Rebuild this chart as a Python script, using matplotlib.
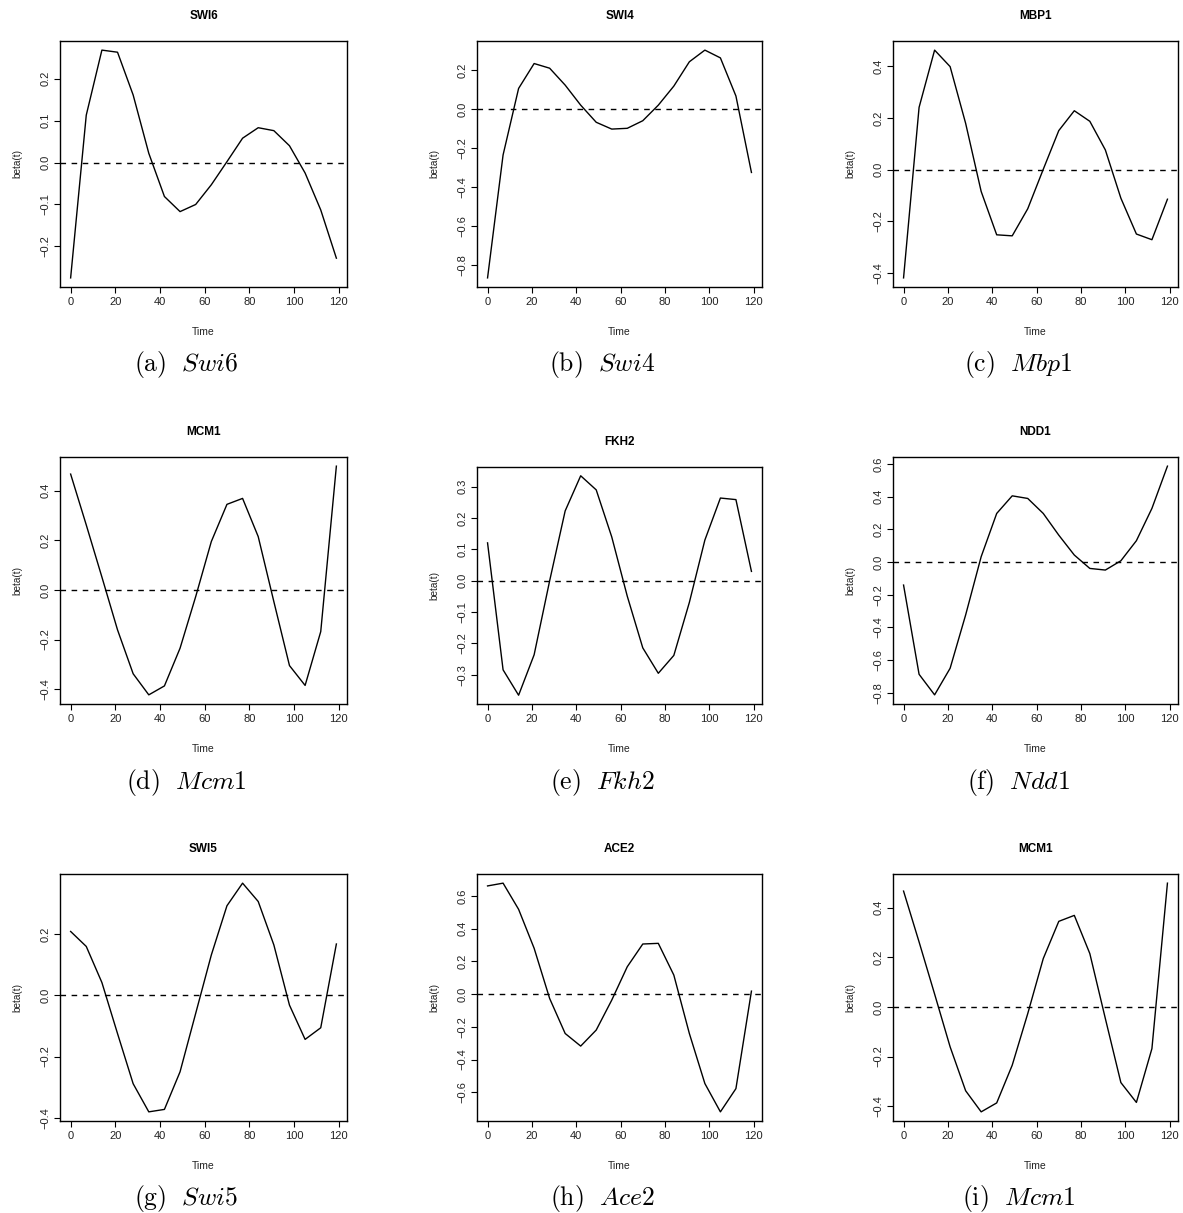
import numpy as np
import matplotlib
matplotlib.use("Agg")
import matplotlib.pyplot as plt

plt.rcParams['font.family'] = ['Liberation Sans', 'DejaVu Sans']
plt.rcParams['mathtext.fontset'] = 'cm'
plt.rcParams['axes.unicode_minus'] = True

time = [0, 7, 14, 21, 28, 35, 42, 49, 56, 63, 70, 77, 84, 91, 98, 105, 112, 119]

swi6 = [-0.275, 0.113, 0.268, 0.263, 0.161, 0.022, -0.081, -0.117, -0.100, -0.053,
        0.002, 0.058, 0.083, 0.076, 0.040, -0.025, -0.113, -0.228]
swi4 = [-0.868, -0.236, 0.106, 0.234, 0.210, 0.123, 0.020, -0.068, -0.103, -0.099,
        -0.060, 0.020, 0.118, 0.243, 0.303, 0.263, 0.067, -0.326]
mbp1 = [-0.420, 0.241, 0.463, 0.399, 0.179, -0.085, -0.253, -0.257, -0.152, 0.001,
        0.151, 0.228, 0.187, 0.076, -0.111, -0.250, -0.272, -0.115]
mcm1 = [0.467, 0.262, 0.052, -0.161, -0.338, -0.423, -0.387, -0.235, -0.027, 0.195,
        0.345, 0.369, 0.215, -0.047, -0.305, -0.385, -0.168, 0.499]
fkh2 = [0.121, -0.284, -0.365, -0.236, 0.000, 0.223, 0.335, 0.290, 0.140, -0.049,
        -0.214, -0.295, -0.238, -0.069, 0.130, 0.264, 0.259, 0.030]
ndd1 = [-0.141, -0.688, -0.814, -0.651, -0.324, 0.033, 0.298, 0.406, 0.390, 0.298,
        0.165, 0.043, -0.039, -0.049, 0.008, 0.131, 0.329, 0.588]
swi5 = [0.209, 0.160, 0.042, -0.125, -0.289, -0.381, -0.373, -0.250, -0.059, 0.132,
        0.293, 0.367, 0.307, 0.165, -0.032, -0.144, -0.106, 0.168]
ace2 = [0.661, 0.678, 0.518, 0.280, -0.027, -0.241, -0.318, -0.220, -0.037, 0.167,
        0.306, 0.310, 0.116, -0.241, -0.547, -0.720, -0.578, 0.018]

titles = ["SWI6", "SWI4", "MBP1", "MCM1", "FKH2", "NDD1", "SWI5", "ACE2", "MCM1"]
captions = [r"$\mathrm{(a)}\ \ Swi6$", r"$\mathrm{(b)}\ \ Swi4$", r"$\mathrm{(c)}\ \ Mbp1$",
            r"$\mathrm{(d)}\ \ Mcm1$", r"$\mathrm{(e)}\ \ Fkh2$", r"$\mathrm{(f)}\ \ Ndd1$",
            r"$\mathrm{(g)}\ \ Swi5$", r"$\mathrm{(h)}\ \ Ace2$", r"$\mathrm{(i)}\ \ Mcm1$"]
series = [swi6, swi4, mbp1, mcm1, fkh2, ndd1, swi5, ace2, mcm1]
yticks = [
    [-0.2, -0.1, 0.0, 0.1, 0.2],
    [-0.8, -0.6, -0.4, -0.2, 0.0, 0.2],
    [-0.4, -0.2, 0.0, 0.2, 0.4],
    [-0.4, -0.2, 0.0, 0.2, 0.4],
    [-0.3, -0.2, -0.1, 0.0, 0.1, 0.2, 0.3],
    [-0.8, -0.6, -0.4, -0.2, 0.0, 0.2, 0.4, 0.6],
    [-0.4, -0.2, 0.0, 0.2],
    [-0.6, -0.4, -0.2, 0.0, 0.2, 0.4, 0.6],
    [-0.4, -0.2, 0.0, 0.2, 0.4],
]
xticks = [0, 20, 40, 60, 80, 100, 120]

W, H = 1183, 1213
fig = plt.figure(figsize=(W / 100, H / 100), dpi=100)

# axes boxes in pixels: left, right, top, bottom
cols = [(60, 347), (477, 762), (893, 1178)]
rows = [(41, 287), (457, 704), (874, 1121)]

for i in range(9):
    r, c = divmod(i, 3)
    left, right = cols[c]
    top, bottom = rows[r]
    if i == 4:
        top = 467
    ax = fig.add_axes([left / W, 1 - bottom / H, (right - left) / W, (bottom - top) / H])
    y = np.array(series[i])
    ax.plot(time, y, color='black', lw=1.0)
    ax.axhline(0, color='black', lw=1.0, ls=(0, (4, 4)))
    rng = y.max() - y.min()
    ax.set_ylim(y.min() - 0.04 * rng, y.max() + 0.04 * rng)
    xr = time[-1] - time[0]
    ax.set_xlim(time[0] - 0.04 * xr, time[-1] + 0.04 * xr)
    ax.set_xticks(xticks)
    ax.set_xticklabels([str(t) for t in xticks])
    ax.set_yticks(yticks[i])
    ax.set_yticklabels([f"{v:.1f}".replace("-", "\u2212") for v in yticks[i]],
                       rotation=90, va='center')
    ax.tick_params(direction='out', length=4, width=0.8, labelsize=8, pad=3,
                   colors='black')
    ax.tick_params(axis='x', labelcolor='#222222')
    ax.tick_params(axis='y', labelcolor='#222222')
    for sp in ax.spines.values():
        sp.set_linewidth(1.0)
    cx = (left + right) / 2
    fig.text(cx / W, 1 - (top - 25) / H, titles[i], ha='center', va='center',
             fontsize=8.5, fontweight='bold')
    fig.text(cx / W, 1 - (bottom + 45) / H, "Time", ha='center', va='center',
             fontsize=7.5, color='#222222')
    fig.text((left - 43) / W, 1 - ((top + bottom) / 2) / H, "beta(t)", ha='center',
             va='center', rotation=90, fontsize=7.2, color='#222222')
    fig.text((cx - 17) / W, 1 - (bottom + 78) / H, captions[i], ha='center', va='center',
             fontsize=18.5)

fig.savefig("out.png", dpi=100, facecolor='white')
